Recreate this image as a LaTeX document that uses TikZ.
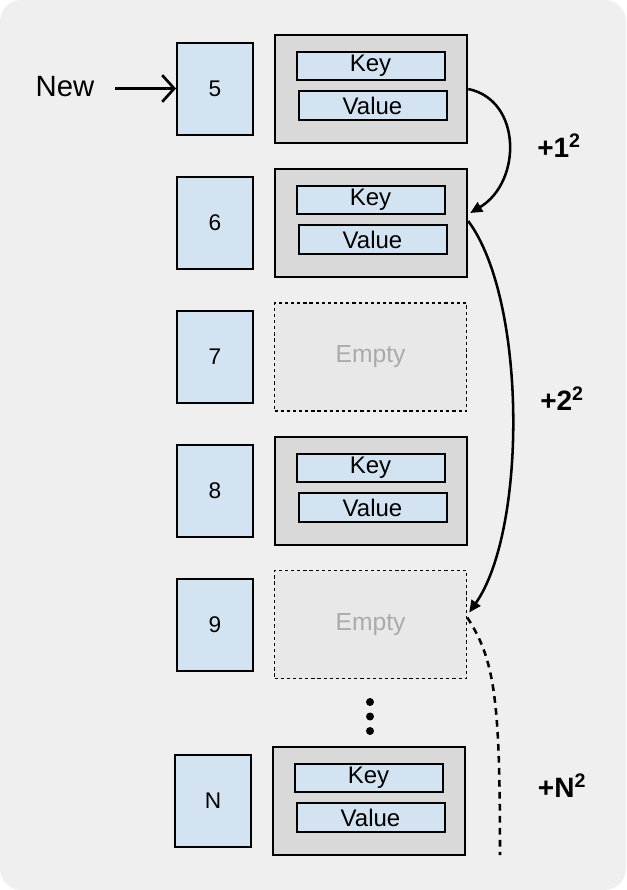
\documentclass[tikz,border=0pt]{standalone}
\usepackage{fontspec}
\setmainfont{Liberation Sans}
\usetikzlibrary{arrows.meta}
\usetikzlibrary{calc}

\definecolor{bggray}{HTML}{EFEFEF}
\definecolor{slotblue}{HTML}{D4E3F2}
\definecolor{entgray}{HTML}{D9D9D9}
\definecolor{emptygray}{HTML}{E8E8E8}
\definecolor{emptytext}{HTML}{AAAAAA}

\tikzset{
  idxbox/.style={draw, line width=1.5pt, fill=slotblue, minimum width=57pt, minimum height=69pt, inner sep=0pt, font=\fontsize{17}{20}\selectfont},
  entbox/.style={draw, line width=1.8pt, fill=entgray, minimum width=144pt, minimum height=81pt, inner sep=0pt},
  emptybox/.style={draw, line width=1.1pt, dash pattern=on 2.4pt off 2.2pt, fill=emptygray, minimum width=144pt, minimum height=81pt, inner sep=0pt, text=emptytext, font=\fontsize{18.5}{21}\selectfont},
  kvbox/.style={draw, line width=1.5pt, fill=slotblue, minimum width=111pt, minimum height=21.5pt, inner sep=0pt, font=\fontsize{18}{20}\selectfont},
  hop/.style={line width=1.9pt, -{Triangle[length=9pt, width=8pt]}},
  hoplabel/.style={font=\bfseries\fontsize{21}{24}\selectfont},
}

\begin{document}
\begin{tikzpicture}[x=0.75pt, y=-0.75pt]
    % page and grey card behind everything
    \useasboundingbox (0,0) rectangle (626,890);
    \fill [bggray, rounded corners=16pt] (0,0) rectangle (626,890);

    % index column
    \node [idxbox] (idx5) at (215,88.5) {5};
    \node [idxbox] (idx6) at (215,223) {6};
    \node [idxbox] (idx7) at (215,357) {7};
    \node [idxbox] (idx8) at (215,490.5) {8};
    \node [idxbox] (idx9) at (215,624.5) {9};
    \node [idxbox] (idxN) at (213,801) {N};

    % buckets
    \node [entbox] (ent5) at (371,89) {};
    \node [kvbox] (key5) at (370.5,66) {Key};
    \node [kvbox] (val5) at (372.5,105.5) {Value};

    \node [entbox] (ent6) at (371,223) {};
    \node [kvbox] (key6) at (370.5,200) {Key};
    \node [kvbox] (val6) at (372.5,239.5) {Value};

    \node [emptybox] (ent7) at (370.5,357) {Empty};

    \node [entbox] (ent8) at (371,491) {};
    \node [kvbox] (key8) at (370.5,468) {Key};
    \node [kvbox] (val8) at (372.5,507.5) {Value};

    \node [emptybox] (ent9) at (370.5,624.5) {Empty};

    \node [entbox] (entN) at (369,801) {};
    \node [kvbox] (keyN) at (368.5,778) {Key};
    \node [kvbox] (valN) at (370.5,817.5) {Value};

    % the dots between 9 and N
    \fill (370,702) circle (3pt);
    \fill (370,716.5) circle (3pt);
    \fill (370,731) circle (3pt);

    % incoming key
    \node [font=\fontsize{22}{26}\selectfont] (new) at (65,87) {New};
    \coordinate (newtail) at (115,88.5);
    \draw [line width=2.4pt, -{Straight Barb[length=9pt, width=20pt, line width=2pt]}] (newtail) -- (idx5.west);

    % probing jumps
    \coordinate (p6in) at ($(ent6.east)+(2,-10)$);
    \coordinate (p6out) at ($(ent6.east)+(0,-2)$);
    \coordinate (p9in) at ($(ent9.east)+(2,-12)$);
    \coordinate (p9out) at ($(ent9.east)+(0,-7)$);
    \coordinate (pend) at (500,855);

    \draw [hop] (ent5.east) .. controls (522,100) and (522,182) .. (p6in);
    \draw [hop] (p6out) .. controls (527,300) and (527,530) .. (p9in);
    \draw [line width=1.9pt, dash pattern=on 5pt off 4pt] (p9out) .. controls (495,660) and (500,700) .. (pend);

    \node [hoplabel] (step1) at (559,146) {+1\textsuperscript{2}};
    \node [hoplabel] (step2) at (562,399) {+2\textsuperscript{2}};
    \node [hoplabel] (stepN) at (562,786) {+N\textsuperscript{2}};
\end{tikzpicture}
\end{document}
